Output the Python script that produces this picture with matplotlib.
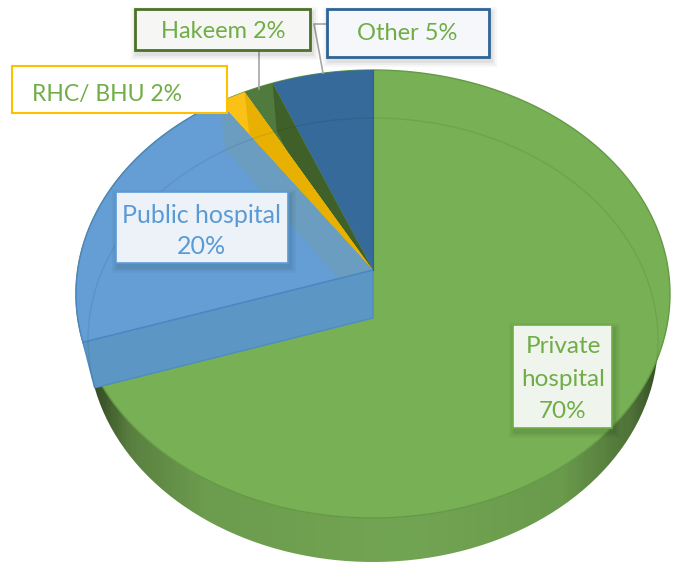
import numpy as np
import matplotlib
matplotlib.use("Agg")
import matplotlib.pyplot as plt
from matplotlib.colors import LinearSegmentedColormap
from matplotlib.patches import Polygon, Rectangle

plt.rcParams["font.family"] = ["Lato", "DejaVu Sans"]

# wedges, going anticlockwise from 12 o'clock
# values, they round to the printed labels
categories = ["Other", "Hakeem", "RHC/ BHU", "Public hospital", "Private hospital"]
shares = [5.4, 1.6, 1.5, 19.5, 70.4]
face_colors = ["#356a9b", "#507a3e", "#fbc116", "#649ed4", "#78b055"]
wall_colors = [None, "#3f6129", "#e8b000", "#6a9dbf", "#5b96c4"]

# ellipse geometry in pixels of the reference
CX, TOP_CY, TOP_RX, TOP_RY = 373, 294, 297, 224
BOT_CY, BOT_RX, BOT_RY = 340, 285, 222
APEX_TOP, APEX_BOT = 270, 318


def top_rim(t):
    t = np.radians(t)
    return np.c_[CX - TOP_RX * np.sin(t), TOP_CY - TOP_RY * np.cos(t)]


def bot_rim(t):
    t = np.radians(t)
    return np.c_[CX - BOT_RX * np.sin(t), BOT_CY - BOT_RY * np.cos(t)]


def arc(fn, a, b, n=80):
    return fn(np.linspace(a, b, n))


fig = plt.figure(figsize=(6.75, 5.64), dpi=100)
ax = fig.add_axes([0, 0, 1, 1])

edges = np.concatenate([[0], np.cumsum(shares)]) / sum(shares) * 360

# side wall with a horizontal gradient, darker at both ends
wall_cmap = LinearSegmentedColormap.from_list(
    "wall",
    [(0, "#2f4520"), (0.07, "#5a8040"), (0.2, "#6c9c4e"), (0.55, "#72a553"),
     (0.82, "#6a9a4c"), (0.94, "#4f7238"), (1, "#2f4520")],
)
grad = np.linspace(0, 1, 300).reshape(1, -1)
im = ax.imshow(grad, extent=(88, 668, 564, 290), cmap=wall_cmap, aspect="auto", zorder=1)
outline = np.vstack([arc(top_rim, edges[4], 270), arc(bot_rim, 270, edges[4])])
clip = Polygon(outline, closed=True, transform=ax.transData, fc="none", ec="none")
ax.add_patch(clip)
im.set_clip_path(clip)

# top face, the private slice is the whole disc under the others
full = arc(top_rim, 0, 360, 240)
ax.add_patch(Polygon(full, closed=True, fc=face_colors[4], ec="#659a45", lw=1, zorder=2))

# front wall of the public slice, lying over the green
p = top_rim(edges[4])[0]
q = bot_rim(edges[4])[0]
ax.add_patch(Polygon([p, (CX, APEX_TOP), (CX, APEX_BOT), q], closed=True,
                     fc=wall_colors[4], ec="#4f8bc4", lw=1, zorder=3))

for i in range(4):
    pts = np.vstack([[(CX, APEX_TOP)], arc(top_rim, edges[i], edges[i + 1])])
    wedge = Polygon(pts, closed=True, fc=face_colors[i], ec="none", zorder=4)
    ax.add_patch(wedge)
    if wall_colors[i] is None:
        continue
    # wall under the slice's leading edge, seen through the face
    p = top_rim(edges[i])[0]
    q = bot_rim(edges[i])[0]
    wall = Polygon([p, (CX, APEX_TOP), (CX, APEX_BOT), q], closed=True,
                   fc=wall_colors[i], ec="none", zorder=5)
    ax.add_patch(wall)
    wall.set_clip_path(wedge)

# public wedge edge lines
p = top_rim(edges[4])[0]
rim_line = arc(top_rim, edges[3], edges[4])
ax.plot([p[0], CX], [p[1], APEX_TOP], color="#4a86c0", lw=1, zorder=6)
ax.plot(rim_line[:, 0], rim_line[:, 1], color="#4a86c0", lw=1, zorder=6)
ax.plot([CX, CX], [70, APEX_TOP], color="#2f5f8c", lw=0.8, zorder=6)

# back edge of the base, seen through the face
ring = arc(bot_rim, -103, edges[4], 200)
ax.plot(ring[:, 0], ring[:, 1], color="#000000", alpha=0.07, lw=1, zorder=7)

# leader lines
ax.plot([259, 259], [50, 89], color="#a6a6a6", lw=1.2, zorder=8)
ax.plot([326, 314, 323], [24, 24, 73], color="#a6a6a6", lw=1.2, zorder=8)

# data labels
label_text = ["Other 5%", "Hakeem 2%", "RHC/ BHU 2%", "Public hospital\n20%", "Private\nhospital\n70%"]
label_boxes = [(327, 9, 489, 57), (135, 9, 310, 50), (12, 66, 227, 113),
               (116, 192, 288, 263), (513, 325, 612, 428)]
label_centers = [(407, 34), (223, 31), (107, 94), (201, 231), (563, 379)]
label_sizes = [17, 17, 16.5, 18, 17.5]
label_spacing = [1.2, 1.2, 1.2, 1.45, 1.65]
label_faces = ["#f5f7fa", "#f6f7f5", "#ffffff", "#edf2f9", "#eff4ed"]
label_edges = ["#2e6595", "#4b7229", "#ffc000", "#5b9bd5", "#70ad47"]
label_lw = [2, 2, 1.5, 1.2, 1.2]
text_colors = ["#70ad47", "#70ad47", "#70ad47", "#5b9bd5", "#70ad47"]

for txt, box, center, size, sp, fc, ec, lw, tc in zip(label_text, label_boxes, label_centers, label_sizes,
                                                      label_spacing, label_faces, label_edges, label_lw,
                                                      text_colors):
    x0, y0, x1, y1 = box
    # soft shadow, except the RHC box which has none
    if ec != "#ffc000":
        for grow, a in [(6, 0.03), (4, 0.04), (2, 0.05)]:
            ax.add_patch(Rectangle((x0 + 2 - grow, y0 + 4 - grow), x1 - x0 + 2 * grow, y1 - y0 + 2 * grow,
                                   fc="#000000", ec="none", alpha=a, zorder=9))
    ax.add_patch(Rectangle((x0, y0), x1 - x0, y1 - y0, fc=fc, ec=ec, lw=lw, zorder=10))
    ax.text(center[0], center[1], txt, color=tc, fontsize=size, ha="center", va="center",
            linespacing=sp, zorder=11)

ax.set_xlim(0, 675)
ax.set_ylim(564, 0)
ax.axis("off")

fig.savefig("out.png", dpi=100)
